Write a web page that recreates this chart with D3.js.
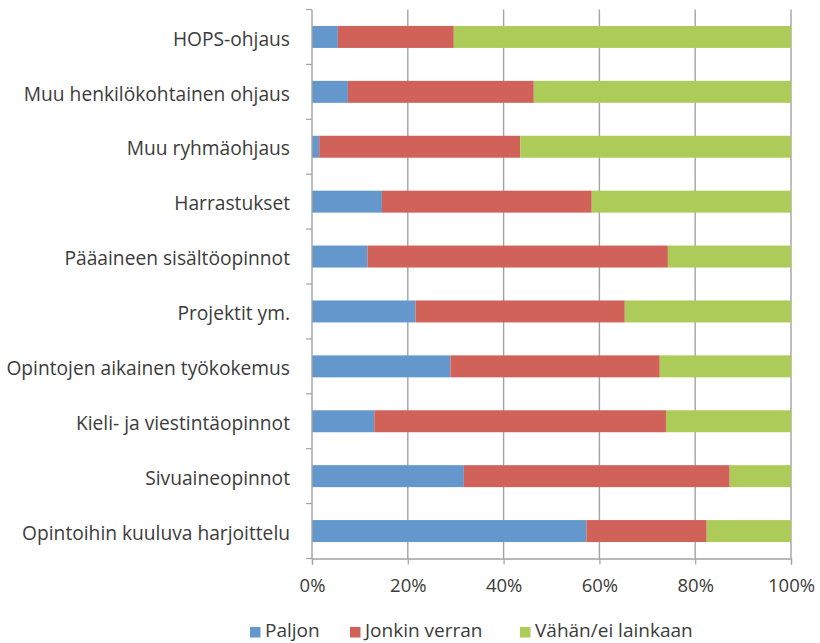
<!DOCTYPE html>
<html>
<head>
<meta charset="utf-8">
<script src="https://cdn.jsdelivr.net/npm/d3@7"></script>
<style>
  body { margin: 0; background: #fff; }
  text { font-family: "Open Sans", sans-serif; fill: #3b3b3b; }
</style>
</head>
<body>
<div id="chart"></div>
<script>
// categories, top to bottom
var categories = ["HOPS-ohjaus", "Muu henkilökohtainen ohjaus", "Muu ryhmäohjaus",
  "Harrastukset", "Pääaineen sisältöopinnot", "Projektit ym.",
  "Opintojen aikainen työkokemus", "Kieli- ja viestintäopinnot",
  "Sivuaineopinnot", "Opintoihin kuuluva harjoittelu"]

// series values (percent)
var paljon = [5.4, 7.5, 1.5, 14.6, 11.6, 21.6, 28.9, 13.0, 31.7, 57.3]
var jonkin = [24.2, 38.8, 42.0, 43.8, 62.7, 43.7, 43.7, 60.9, 55.5, 25.1]
var vahan = [70.4, 53.7, 56.5, 41.6, 25.7, 34.7, 27.4, 26.1, 12.8, 17.6]

var seriesNames = ["Paljon", "Jonkin verran", "Vähän/ei lainkaan"]
var xTicks = [0, 20, 40, 60, 80, 100]

var width = 820, height = 643
var margin = {top: 9.5, right: 29, bottom: 84.5, left: 312}

var svg = d3.select("#chart").append("svg")
    .attr("width", width)
    .attr("height", height)

var data = categories.map(function(c, i) {
  return {cat: c, "Paljon": paljon[i], "Jonkin verran": jonkin[i], "Vähän/ei lainkaan": vahan[i]}
})

var x = d3.scaleLinear()
    .domain([0, 100])
    .range([margin.left, width - margin.right])

var y = d3.scaleBand()
    .domain(categories)
    .range([margin.top, height - margin.bottom])
    .paddingInner(0.6)
    .paddingOuter(0.3)

var color = d3.scaleOrdinal()
    .domain(seriesNames)
    .range(["#6498cc", "#d1625a", "#adcb58"])

// gridlines
svg.append("g")
  .selectAll("line")
  .data(xTicks.slice(1))
  .enter().append("line")
    .attr("x1", function(d) { return x(d) })
    .attr("x2", function(d) { return x(d) })
    .attr("y1", margin.top)
    .attr("y2", height - margin.bottom)
    .attr("stroke", "#a3a3a3")
    .attr("stroke-width", 1.4)

var stacked = d3.stack().keys(seriesNames)(data)

svg.append("g")
  .selectAll("g")
  .data(stacked)
  .enter().append("g")
    .attr("fill", function(d) { return color(d.key) })
  .selectAll("rect")
  .data(function(d) { return d })
  .enter().append("rect")
    .attr("x", function(d) { return x(d[0]) })
    .attr("width", function(d) { return x(d[1]) - x(d[0]) })
    .attr("y", function(d) { return y(d.data.cat) })
    .attr("height", y.bandwidth())

// y axis: ticks between the categories
var yAxis = svg.append("g")
var bandStep = y.step()
var boundaries = d3.range(categories.length + 1).map(function(i) { return margin.top + i * bandStep })
yAxis.append("line")
    .attr("x1", margin.left).attr("x2", margin.left)
    .attr("y1", margin.top).attr("y2", height - margin.bottom)
    .attr("stroke", "#a3a3a3").attr("stroke-width", 1.4)
yAxis.selectAll(".tk")
  .data(boundaries)
  .enter().append("line")
    .attr("x1", margin.left - 6).attr("x2", margin.left)
    .attr("y1", function(d) { return d }).attr("y2", function(d) { return d })
    .attr("stroke", "#a3a3a3").attr("stroke-width", 1.2)
yAxis.selectAll("text")
  .data(categories)
  .enter().append("text")
    .attr("x", margin.left - 22)
    .attr("y", function(d) { return y(d) + y.bandwidth() / 2 + 2 })
    .attr("dy", "0.35em")
    .attr("text-anchor", "end")
    .style("font-size", "19.2px")
    .text(function(d) { return d })

// x axis
var xAxis = svg.append("g")
    .attr("transform", "translate(0," + (height - margin.bottom) + ")")
    .call(d3.axisBottom(x).tickValues(xTicks).tickSize(6).tickPadding(14)
      .tickFormat(function(d) { return d + "%" }))
xAxis.select(".domain").attr("stroke", "#a3a3a3").attr("stroke-width", 1.4)
xAxis.selectAll(".tick line").attr("stroke", "#a3a3a3").attr("stroke-width", 1.2)
xAxis.selectAll(".tick text")
    .style("font-size", "18.5px")
    .style("font-family", "'Open Sans', sans-serif")
    .attr("fill", "#3b3b3b")

// legend
var legendX = [250, 350, 520]
var legend = svg.append("g")
  .selectAll("g")
  .data(seriesNames)
  .enter().append("g")
    .attr("transform", function(d, i) { return "translate(" + legendX[i] + ",627)" })
legend.append("rect")
    .attr("width", 10.5).attr("height", 10.5)
    .attr("fill", function(d) { return color(d) })
legend.append("text")
    .attr("x", 15)
    .attr("y", 10)
    .style("font-size", "19px")
    .text(function(d) { return d })
</script>
</body>
</html>
